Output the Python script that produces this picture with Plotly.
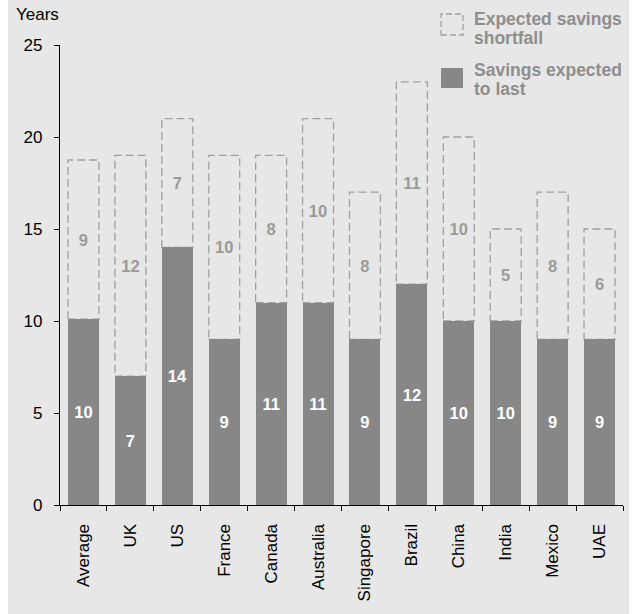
import plotly.graph_objects as go

# Years of retirement savings by market
countries = ["Average", "UK", "US", "France", "Canada", "Australia",
             "Singapore", "Brazil", "China", "India", "Mexico", "UAE"]
savings_last = [10.1, 7, 14, 9, 11, 11, 9, 12, 10, 10, 9, 9]
shortfall = [8.65, 12, 7, 10, 8, 10, 8, 11, 10, 5, 8, 6]
y_ticks = [0, 5, 10, 15, 20, 25]

legend_items = [["Expected savings", "shortfall"], ["Savings expected", "to last"]]

BG = "#e7e7e7"
SOLID = "#878787"
DASH_LINE = "#a0a0a0"
MUTED_TEXT = "#8e8e8e"
FONT = "Liberation Sans, Arial, sans-serif"

W, H = 636, 614
L, R, T, B = 60, 13, 45, 109
BARGAP = 0.34


def px_x(p):
    return (p - L) / (W - L - R)


def px_y(p):
    return (H - B - p) / (H - T - B)


fig = go.Figure()

fig.add_trace(go.Bar(
    x=countries, y=savings_last, name="Savings expected to last",
    marker=dict(color=SOLID, line=dict(width=0)),
    text=savings_last, texttemplate="%{y:.0f}",
    textposition="inside", insidetextanchor="middle", textangle=0,
    constraintext="none",
    textfont=dict(family=FONT, size=16.5, color="white", weight="bold"),
    hoverinfo="skip",
))

fig.add_trace(go.Bar(
    x=countries, y=shortfall, name="Expected savings shortfall",
    marker=dict(color="rgba(0,0,0,0)", line=dict(width=0)),
    text=shortfall, texttemplate="%{y:.0f}",
    textposition="inside", insidetextanchor="middle", textangle=0,
    constraintext="none",
    textfont=dict(family=FONT, size=16.5, color="#9a9a9a", weight="bold"),
    hoverinfo="skip",
))

shapes = []
# white page edges around the grey panel
shapes.append(dict(type="rect", xref="paper", yref="paper",
                   x0=px_x(-2), x1=px_x(8), y0=px_y(H + 2), y1=px_y(-2),
                   fillcolor="white", line=dict(width=0), layer="above"))
shapes.append(dict(type="rect", xref="paper", yref="paper",
                   x0=px_x(629), x1=px_x(W + 2), y0=px_y(H + 2), y1=px_y(-2),
                   fillcolor="white", line=dict(width=0), layer="above"))

# dashed outline of each shortfall segment
half = (1 - BARGAP) / 2
for i, (base, extra) in enumerate(zip(savings_last, shortfall)):
    shapes.append(dict(type="rect", xref="x", yref="y",
                       x0=i - half, x1=i + half, y0=base, y1=base + extra,
                       line=dict(color=DASH_LINE, width=1.3, dash="8px,4px"),
                       fillcolor="rgba(0,0,0,0)", layer="below"))

# legend swatches
shapes.append(dict(type="rect", xref="paper", yref="paper",
                   x0=px_x(441), x1=px_x(463), y0=px_y(35), y1=px_y(14),
                   line=dict(color=DASH_LINE, width=1.3, dash="6px,3px"),
                   fillcolor="rgba(0,0,0,0)"))
shapes.append(dict(type="rect", xref="paper", yref="paper",
                   x0=px_x(441), x1=px_x(463), y0=px_y(88), y1=px_y(68),
                   line=dict(width=0), fillcolor=SOLID))

annotations = [dict(text="Years", xref="paper", yref="paper",
                    x=px_x(14), y=px_y(15), xanchor="left", yanchor="middle",
                    showarrow=False, font=dict(family=FONT, size=17, color="black"))]

line_centres = [[19, 38], [70, 89]]
for lines, centres in zip(legend_items, line_centres):
    for txt, cy in zip(lines, centres):
        annotations.append(dict(text=txt, xref="paper", yref="paper",
                                x=px_x(472), y=px_y(cy), xanchor="left", yanchor="middle",
                                showarrow=False,
                                font=dict(family=FONT, size=17.5, color=MUTED_TEXT, weight="bold")))

fig.update_layout(
    width=W, height=H,
    margin=dict(l=L, r=R, t=T, b=B, pad=0),
    paper_bgcolor=BG, plot_bgcolor="rgba(0,0,0,0)",
    barmode="stack", bargap=BARGAP,
    showlegend=False,
    shapes=shapes, annotations=annotations,
    font=dict(family=FONT, color="black"),
)

fig.update_xaxes(
    type="category", tickangle=-90, tickson="boundaries",
    ticks="outside", ticklen=5, tickwidth=1.3, tickcolor="black",
    showline=True, linecolor="black", linewidth=1.3,
    showgrid=False, ticklabelstandoff=11,
    tickfont=dict(family=FONT, size=17, color="black"),
)

fig.update_yaxes(
    range=[0, 25], tickvals=y_ticks,
    ticks="outside", ticklen=5, tickwidth=1.3, tickcolor="black",
    showline=True, linecolor="black", linewidth=1.3,
    showgrid=False, zeroline=False, ticklabelstandoff=8,
    tickfont=dict(family=FONT, size=17, color="black"),
)

fig.write_html("out.html")
